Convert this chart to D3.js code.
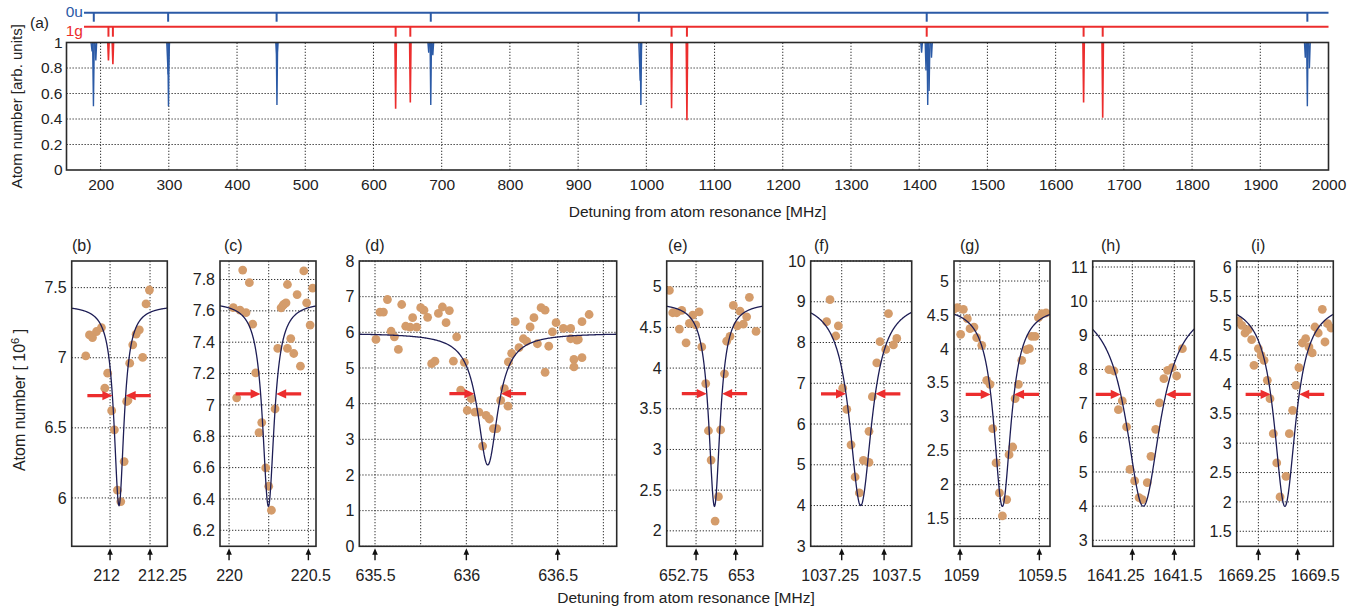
<!DOCTYPE html>
<html lang="en">
<head>
<meta charset="utf-8">
<title>Atom loss spectra</title>
<style>
  body { margin: 0; background: white; font-family: "Liberation Sans", Arial, Helvetica, sans-serif; }
  .grid { stroke: #333; stroke-width: 1; stroke-dasharray: 1.3,1.7; fill: none; }
  .frame { fill: none; stroke: #2a2a2a; stroke-width: 1.6; }
  .axis text { fill: #222; font-family: "Liberation Sans", Arial, sans-serif; }
  .label { fill: #222; }
</style>
</head>
<body>
<div id="chart"></div>
<script src="https://d3js.org/d3.v7.min.js"></script>
<script>
// ---------- (a) survey spectrum ----------
var seriesNames = ["0u", "1g"];
// [centre MHz, minimum, half width MHz]
var blueDips = [
  [187.5, 0.93, 1.5], [189.5, 0.50, 1.2], [193, 0.86, 1.2],
  [299, 0.75, 2], [299.5, 0.50, 1],
  [458.5, 0.88, 1.5], [458.5, 0.51, 1],
  [681, 0.92, 1.2], [684, 0.51, 1], [687, 0.90, 1.2],
  [991, 0.70, 2], [992, 0.51, 1],
  [1403.5, 0.92, 1.2], [1410, 0.78, 1.2], [1412.5, 0.51, 1], [1414.5, 0.62, 1.2], [1418, 0.88, 1.2],
  [1966, 0.88, 1.2], [1969, 0.50, 1], [1972, 0.80, 1.2]
];
var redDips = [
  [211.5, 0.86, 1], [218, 0.83, 1], [632.5, 0.48, 1], [654, 0.53, 1],
  [1037, 0.485, 1], [1059.5, 0.39, 1], [1641, 0.53, 1], [1669, 0.41, 1]
];
var blueMarks = [190, 299, 458, 684, 989, 1411, 1969];
var redMarks = [211.5, 218, 632.5, 654, 1037, 1059.5, 1411, 1641, 1669];
var aXTicks = [200, 300, 400, 500, 600, 700, 800, 900, 1000, 1100, 1200, 1300, 1400, 1500, 1600, 1700, 1800, 1900, 2000];
var aYTicks = [0, 0.2, 0.4, 0.6, 0.8, 1];

// ---------- (b)-(i) zoomed resonances ----------
var panelIds = ["(b)", "(c)", "(d)", "(e)", "(f)", "(g)", "(h)", "(i)"];
var panelXDomains = [[211.76, 212.358], [219.943, 220.548], [635.414, 636.823], [652.565, 653.17],
  [1037.067, 1037.663], [1058.962, 1059.567], [1641.014, 1641.619], [1669.112, 1669.727]];
var panelYDomains = [[5.655, 7.69], [6.098, 7.918], [0, 8], [1.81, 5.316],
  [3, 10], [1.092, 5.295], [2.824, 11.176], [1.244, 6.102]];
var panelYTicks = [
  [6, 6.5, 7, 7.5],
  [6.2, 6.4, 6.6, 6.8, 7, 7.2, 7.4, 7.6, 7.8],
  [0, 1, 2, 3, 4, 5, 6, 7, 8],
  [2, 2.5, 3, 3.5, 4, 4.5, 5],
  [3, 4, 5, 6, 7, 8, 9, 10],
  [1.5, 2, 2.5, 3, 3.5, 4, 4.5, 5],
  [3, 4, 5, 6, 7, 8, 9, 10, 11],
  [1.5, 2, 2.5, 3, 3.5, 4, 4.5, 5, 5.5, 6]
];
var panelXGrid = [
  [212, 212.25], [220, 220.25, 220.5], [635.5, 635.75, 636, 636.25, 636.5, 636.75],
  [652.75, 653], [1037.25, 1037.5], [1059, 1059.25, 1059.5], [1641.25, 1641.5], [1669.25, 1669.5]
];
var panelXLabels = [
  [212, 212.25], [220, 220.5], [635.5, 636, 636.5], [652.75, 653],
  [1037.25, 1037.5], [1059, 1059.5], [1641.25, 1641.5], [1669.25, 1669.5]
];
// Lorentzian fit: [centre, baseline, depth, half width]
var fitParams = [
  [212.056, 7.376, 1.431, 0.0377],
  [220.248, 7.659, 1.306, 0.0444],
  [636.117, 5.98, 3.70, 0.0673],
  [652.866, 4.811, 2.511, 0.0435],
  [1037.362, 9.076, 5.076, 0.080],
  [1059.267, 4.643, 2.963, 0.0656],
  [1641.315, 10.04, 6.04, 0.1234],
  [1669.419, 5.433, 3.508, 0.0834]
];
var arrowLevels = [6.73, 7.07, 4.28, 3.685, 6.74, 3.33, 7.27, 3.832];

var pointsB = [[211.848, 7.013], [211.871, 7.163], [211.89, 7.144], [211.915, 7.187], [211.946, 7.215],
  [211.985, 6.89], [211.967, 6.783], [212.01, 6.622], [212.027, 6.486], [212.088, 6.259],
  [212.046, 6.055], [212.067, 5.974], [212.104, 6.688], [212.112, 6.695], [212.123, 6.961],
  [212.142, 7.092], [212.163, 7.168], [212.183, 7.199], [212.204, 7.002], [212.225, 7.384], [212.246, 7.483]];
var pointsC = [[220.048, 7.045], [220.027, 7.621], [220.069, 7.604], [220.107, 7.589], [220.086, 7.86],
  [220.128, 7.78], [220.149, 7.515], [220.168, 7.204], [220.206, 6.887], [220.189, 6.823],
  [220.231, 6.598], [220.25, 6.481], [220.267, 6.328], [220.29, 6.974], [220.307, 7.36],
  [220.328, 7.619], [220.341, 7.636], [220.347, 7.643], [220.359, 7.651], [220.368, 7.768], [220.389, 7.423],
  [220.368, 7.36], [220.408, 7.328], [220.429, 7.704], [220.45, 7.247], [220.471, 7.855],
  [220.489, 7.651], [220.511, 7.509], [220.527, 7.745]];
var pointsD = [[635.505, 5.80], [635.527, 6.567], [635.546, 6.567], [635.568, 6.92], [635.588, 6.03],
  [635.606, 5.875], [635.628, 5.52], [635.646, 6.78], [635.668, 6.17], [635.692, 6.146],
  [635.706, 6.41], [635.728, 6.146], [635.75, 6.69], [635.768, 6.62], [635.788, 6.42],
  [635.81, 5.12], [635.828, 5.19], [635.847, 6.53], [635.869, 6.71], [635.889, 6.27],
  [635.907, 6.61], [635.929, 5.19], [635.947, 5.875], [635.969, 4.38], [635.989, 5.16],
  [636.005, 3.81], [636.027, 4.14], [636.047, 3.76], [636.069, 3.76], [636.089, 2.81],
  [636.108, 3.67], [636.126, 3.57], [636.148, 3.30], [636.166, 3.30], [636.188, 4.09],
  [636.208, 4.42], [636.228, 3.93], [636.23, 5.17], [636.248, 5.41], [636.268, 6.30],
  [636.288, 5.57], [636.312, 5.82], [636.33, 5.75], [636.349, 6.15], [636.37, 6.41],
  [636.389, 5.68], [636.409, 6.69], [636.431, 6.62], [636.431, 4.88], [636.451, 5.61],
  [636.471, 6.01], [636.491, 6.27], [636.531, 6.11], [636.571, 6.11], [636.571, 5.82],
  [636.589, 5.24], [636.589, 5.03], [636.613, 5.80], [636.633, 5.29], [636.633, 6.30],
  [636.672, 6.50], [636.605, 5.78]];
var pointsE = [[652.582, 4.955], [652.603, 4.68], [652.628, 4.68], [652.66, 4.71], [652.645, 4.48],
  [652.687, 4.31], [652.708, 4.55], [652.729, 4.65], [652.748, 4.53], [652.769, 4.69],
  [652.786, 4.26], [652.811, 3.81], [652.828, 3.23], [652.845, 2.87], [652.87, 2.12],
  [652.891, 2.42], [652.905, 3.24], [652.929, 3.93], [652.943, 4.33], [652.964, 4.39],
  [652.985, 4.77], [653.01, 4.52], [653.027, 4.70], [653.048, 4.54], [653.069, 4.63],
  [653.086, 4.87], [653.128, 4.45]];
var pointsF = [[1037.161, 8.51], [1037.181, 9.05], [1037.215, 8.16], [1037.23, 8.41], [1037.256, 6.88],
  [1037.28, 6.36], [1037.305, 5.49], [1037.329, 4.70], [1037.354, 4.31], [1037.378, 5.11],
  [1037.411, 5.06], [1037.411, 5.82], [1037.431, 6.67], [1037.457, 7.50], [1037.476, 8.02],
  [1037.51, 7.83], [1037.526, 8.71], [1037.555, 7.94], [1037.575, 8.10]];
var pointsG = [[1058.958, 4.578], [1058.983, 4.607], [1059.021, 4.583], [1059.004, 4.215], [1059.046, 4.445],
  [1059.063, 4.298], [1059.088, 4.322], [1059.105, 4.165], [1059.137, 4.052], [1059.168, 3.537],
  [1059.189, 3.478], [1059.206, 2.825], [1059.227, 2.32], [1059.248, 1.878], [1059.267, 1.539],
  [1059.294, 1.78], [1059.309, 2.442], [1059.332, 2.555], [1059.347, 3.267], [1059.368, 3.478],
  [1059.389, 3.832], [1059.42, 3.989], [1059.437, 4.003], [1059.452, 4.185], [1059.473, 4.185],
  [1059.494, 4.46], [1059.515, 4.519], [1059.542, 4.529]];
var pointsH = [[1641.111, 7.995], [1641.141, 7.956], [1641.19, 7.078], [1641.167, 6.824], [1641.216, 6.317],
  [1641.236, 5.078], [1641.264, 4.737], [1641.29, 4.249], [1641.31, 4.19], [1641.339, 4.688],
  [1641.361, 5.459], [1641.389, 6.249], [1641.411, 7.02], [1641.438, 7.73], [1641.46, 7.976],
  [1641.488, 8.054], [1641.514, 7.81], [1641.548, 8.61]];
var pointsI = [[1669.123, 5.081], [1669.144, 5.007], [1669.165, 4.876], [1669.186, 4.933], [1669.207, 4.763],
  [1669.222, 4.326], [1669.25, 4.61], [1669.267, 4.496], [1669.286, 4.411], [1669.307, 4.07],
  [1669.324, 3.758], [1669.345, 3.162], [1669.367, 2.663], [1669.388, 2.084], [1669.426, 2.436],
  [1669.447, 3.162], [1669.468, 3.56], [1669.489, 3.985], [1669.508, 4.286], [1669.53, 4.706],
  [1669.551, 4.78], [1669.572, 4.638], [1669.593, 4.536], [1669.61, 4.978], [1669.631, 4.876],
  [1669.657, 5.279], [1669.674, 4.723], [1669.691, 5.035], [1669.712, 4.961]];
var panelPoints = [pointsB, pointsC, pointsD, pointsE, pointsF, pointsG, pointsH, pointsI];

// ---------- layout ----------
var width = 1369, height = 609;
var blue = "#2b5aa6", red = "#ec2d2d", dotColor = "#d49c6b", fitColor = "#1d1d55";
var panelLeft = [71.7, 220, 359.3, 666.7, 810.7, 954, 1092.7, 1236.7];
var panelRight = [167.3, 316, 616.7, 762.7, 911.7, 1050, 1194.3, 1333.3];
var titleX = [72, 224, 365, 668, 814, 960, 1101, 1251];
// horizontal nudge of the frequency labels (px), as in the figure
var labelNudge = [[-4, 12], [0, 2], [0, 0, 0], [-13, 5], [-12, 12], [1, 2.5], [-17, 3], [-12, 17]];
var panelTop = 261, panelBottom = 546.3;

var svg = d3.select("#chart").append("svg")
  .attr("width", width)
  .attr("height", height);

// ===== panel (a) =====
var ax = d3.scaleLinear().domain([150, 2000]).range([66.5, 1328.5]);
var ay = d3.scaleLinear().domain([0, 1]).range([170, 42.5]);
var ga = svg.append("g");

ga.selectAll(".vg").data(aXTicks.filter(function(d) { return d < 2000; })).enter()
  .append("line").attr("class", "grid")
  .attr("x1", ax).attr("x2", ax).attr("y1", ay(0)).attr("y2", ay(1));
ga.selectAll(".hg").data(aYTicks.filter(function(d) { return d > 0 && d < 1; })).enter()
  .append("line").attr("class", "grid")
  .attr("x1", ax(150)).attr("x2", ax(2000)).attr("y1", ay).attr("y2", ay);

function dipPath(d) {
  return d3.line().x(function(p) { return ax(p[0]); }).y(function(p) { return ay(p[1]); })
    ([[d[0] - d[2], 1], [d[0], d[1]], [d[0] + d[2], 1]]);
}
ga.selectAll(".bd").data(blueDips).enter().append("path")
  .attr("d", dipPath).attr("fill", "none").attr("stroke", blue).attr("stroke-width", 1.4);
ga.selectAll(".rd").data(redDips).enter().append("path")
  .attr("d", dipPath).attr("fill", "none").attr("stroke", red).attr("stroke-width", 1.6);

ga.append("rect").attr("class", "frame")
  .attr("x", ax(150)).attr("y", ay(1))
  .attr("width", ax(2000) - ax(150)).attr("height", ay(0) - ay(1));

var axA = ga.append("g").attr("class", "axis")
  .attr("transform", "translate(0," + ay(0) + ")")
  .call(d3.axisBottom(ax).tickValues(aXTicks).tickSize(0).tickPadding(9).tickFormat(String));
axA.select(".domain").remove();
axA.selectAll("text").style("font-size", "15.5px");

var ayA = ga.append("g").attr("class", "axis")
  .attr("transform", "translate(" + ax(150) + ",0)")
  .call(d3.axisLeft(ay).tickValues(aYTicks).tickSize(0).tickPadding(4).tickFormat(String));
ayA.select(".domain").remove();
ayA.selectAll("text").style("font-size", "15.5px");

// state marker lines
var markY = [12.7, 26.7];
var markColors = [blue, red];
var markSets = [blueMarks, redMarks];
seriesNames.forEach(function(name, k) {
  ga.append("line")
    .attr("x1", 84).attr("x2", ax(2000)).attr("y1", markY[k]).attr("y2", markY[k])
    .attr("stroke", markColors[k]).attr("stroke-width", 2);
  ga.selectAll(".mk" + k).data(markSets[k]).enter().append("line")
    .attr("x1", ax).attr("x2", ax)
    .attr("y1", markY[k]).attr("y2", markY[k] + (k === 0 ? 9 : 10))
    .attr("stroke", markColors[k]).attr("stroke-width", 2);
  ga.append("text")
    .attr("x", 83).attr("y", k === 0 ? 17 : 35.5)
    .attr("text-anchor", "end")
    .attr("fill", markColors[k])
    .style("font-size", "15.5px")
    .text(name);
});

ga.append("text").attr("class", "label").attr("x", 30).attr("y", 28).style("font-size", "15.5px").text("(a)");
ga.append("text").attr("class", "label")
  .attr("transform", "translate(22," + (ay(0) + ay(1)) / 2 + ") rotate(-90)")
  .attr("text-anchor", "middle").style("font-size", "15px")
  .text("Atom number [arb. units]");
ga.append("text").attr("class", "label")
  .attr("x", (ax(150) + ax(2000)) / 2).attr("y", 217)
  .attr("text-anchor", "middle").style("font-size", "15.5px")
  .text("Detuning from atom resonance [MHz]");

// ===== panels (b)-(i) =====
panelIds.forEach(function(id, i) {
  var x = d3.scaleLinear().domain(panelXDomains[i]).range([panelLeft[i], panelRight[i]]);
  var y = d3.scaleLinear().domain(panelYDomains[i]).range([panelBottom, panelTop]);
  var g = svg.append("g");
  var clipId = "clip" + i;
  g.append("clipPath").attr("id", clipId).append("rect")
    .attr("x", panelLeft[i]).attr("y", panelTop)
    .attr("width", panelRight[i] - panelLeft[i]).attr("height", panelBottom - panelTop);

  g.selectAll(".hg").data(panelYTicks[i]).enter().append("line").attr("class", "grid")
    .attr("x1", panelLeft[i]).attr("x2", panelRight[i]).attr("y1", y).attr("y2", y);
  g.selectAll(".vg").data(panelXGrid[i]).enter().append("line").attr("class", "grid")
    .attr("x1", x).attr("x2", x).attr("y1", panelTop).attr("y2", panelBottom);

  var inner = g.append("g").attr("clip-path", "url(#" + clipId + ")");
  inner.selectAll("circle").data(panelPoints[i]).enter().append("circle")
    .attr("cx", function(d) { return x(d[0]); })
    .attr("cy", function(d) { return y(d[1]); })
    .attr("r", 4.4)
    .attr("fill", dotColor);

  var p = fitParams[i];
  var dom = x.domain();
  var xs = d3.range(0, 401).map(function(k) { return dom[0] + k * (dom[1] - dom[0]) / 400; });
  var fit = d3.line()
    .x(function(d) { return x(d); })
    .y(function(d) { var t = (d - p[0]) / p[3]; return y(p[1] - p[2] / (1 + t * t)); });
  inner.append("path").datum(xs).attr("d", fit)
    .attr("fill", "none").attr("stroke", fitColor).attr("stroke-width", 1.3);

  // half-width arrows
  var level = arrowLevels[i];
  var half = p[3] * Math.sqrt(p[2] / (p[1] - level) - 1);
  var ya = y(level);
  [[x(p[0] - half), -1], [x(p[0] + half), 1]].forEach(function(a) {
    var tip = a[0], s = a[1];
    g.append("path")
      .attr("d", "M" + (tip + s * 25) + "," + (ya - 1.6) + "H" + (tip + s * 10) + "V" + (ya - 4.6) +
        "L" + tip + "," + ya + "L" + (tip + s * 10) + "," + (ya + 4.6) + "V" + (ya + 1.6) +
        "H" + (tip + s * 25) + "Z")
      .attr("fill", red);
  });

  g.append("rect").attr("class", "frame")
    .attr("x", panelLeft[i]).attr("y", panelTop)
    .attr("width", panelRight[i] - panelLeft[i]).attr("height", panelBottom - panelTop);

  var yAx = g.append("g").attr("class", "axis")
    .attr("transform", "translate(" + panelLeft[i] + ",0)")
    .call(d3.axisLeft(y).tickValues(panelYTicks[i]).tickSize(0).tickPadding(5).tickFormat(String));
  yAx.select(".domain").remove();
  yAx.selectAll("text").style("font-size", "16px");

  var xAx = g.append("g").attr("class", "axis")
    .attr("transform", "translate(0," + panelBottom + ")")
    .call(d3.axisBottom(x).tickValues(panelXLabels[i]).tickSize(0).tickPadding(23).tickFormat(String));
  xAx.select(".domain").remove();
  xAx.selectAll("text")
    .style("font-size", "16px")
    .attr("dx", function(d, k) { return labelNudge[i][k]; });

  // upward arrows at labelled frequencies
  g.selectAll(".up").data(panelXLabels[i]).enter().append("path")
    .attr("d", function(d) {
      var cx = x(d), t = panelBottom + 2;
      return "M" + cx + "," + t + "L" + (cx + 2.8) + "," + (t + 6.5) + "H" + (cx + 0.7) + "V" + (t + 12) +
        "H" + (cx - 0.7) + "V" + (t + 6.5) + "H" + (cx - 2.8) + "Z";
    })
    .attr("fill", "#111");

  g.append("text").attr("class", "label")
    .attr("x", titleX[i]).attr("y", 251)
    .style("font-size", "16px").text(id);
});

var yl = svg.append("text").attr("class", "label")
  .attr("transform", "translate(25,400) rotate(-90)")
  .attr("text-anchor", "middle").style("font-size", "16px");
yl.append("tspan").text("Atom number [ 10");
yl.append("tspan").attr("dy", -6).style("font-size", "11px").text("6");
yl.append("tspan").attr("dy", 6).text(" ]");

svg.append("text").attr("class", "label")
  .attr("x", 686).attr("y", 603)
  .attr("text-anchor", "middle").style("font-size", "15.5px")
  .text("Detuning from atom resonance [MHz]");
</script>
</body>
</html>
